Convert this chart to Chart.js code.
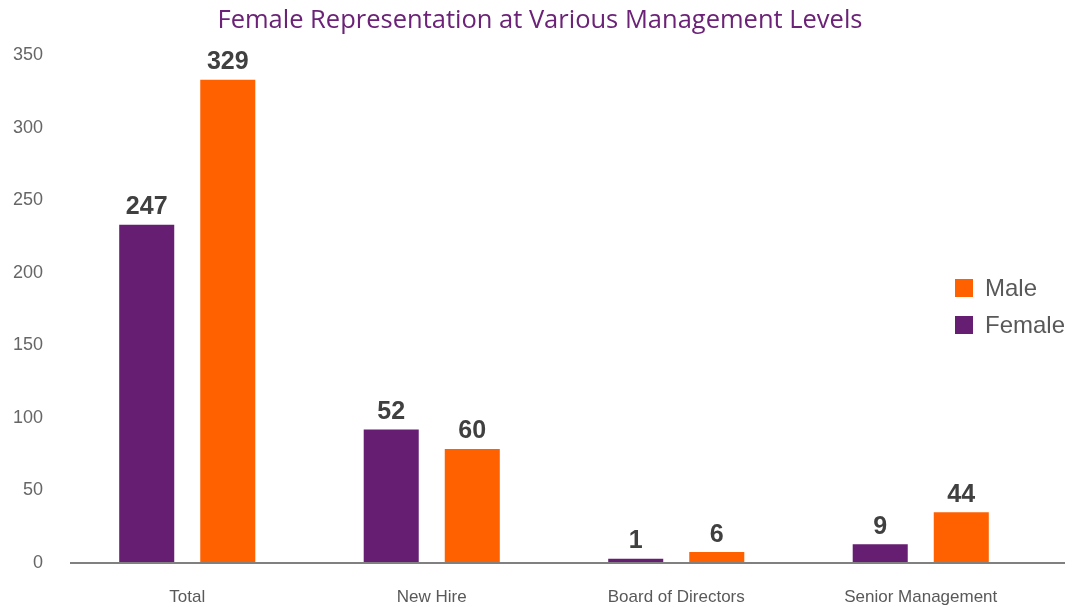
<!DOCTYPE html>
<html>
<head>
<meta charset="utf-8">
<script src="https://cdn.jsdelivr.net/npm/chart.js@4.4.0/dist/chart.umd.min.js"></script>
<style>
  html, body { margin: 0; padding: 0; background: #fff; }
  #wrap { position: relative; width: 1074px; height: 607px; }
  #legend { position: absolute; left: 955px; top: 269px; font: 24px "Liberation Sans", Arial, sans-serif; color: #595959; }
  #legend div { display: flex; align-items: center; height: 37px; }
  #legend span.box { display: inline-block; width: 18px; height: 18px; margin-right: 12px; }
</style>
</head>
<body>
<div id="wrap">
  <canvas id="barChart" width="1074" height="607"></canvas>
  <div id="legend"></div>
</div>
<script>
var chartTitle = "Female Representation at Various Management Levels";
var categories = ["Total", "New Hire", "Board of Directors", "Senior Management"];
// bar heights as drawn in the picture
var femaleValues = [233, 92, 3, 13];
var maleValues = [333, 78.5, 7.5, 35];
// numbers printed above the bars
var femaleLabels = ["247", "52", "1", "9"];
var maleLabels = ["329", "60", "6", "44"];
var yTicks = [0, 50, 100, 150, 200, 250, 300, 350];

var purple = "#661e72";
var orange = "#ff6000";

var barLabels = {
  id: 'barLabels',
  afterDatasetsDraw: function(chart) {
    var ctx = chart.ctx;
    ctx.save();
    ctx.font = "bold 25px 'Liberation Sans', Arial, sans-serif";
    ctx.fillStyle = "#404040";
    ctx.textAlign = "center";
    ctx.textBaseline = "bottom";
    chart.data.datasets.forEach(function(ds, i) {
      chart.getDatasetMeta(i).data.forEach(function(bar, j) {
        ctx.fillText(ds.valueLabels[j], bar.x, bar.y - 5);
      });
    });
    ctx.restore();
  }
};

var baseLine = {
  id: 'baseLine',
  afterDatasetsDraw: function(chart) {
    var ctx = chart.ctx, area = chart.chartArea;
    var y = chart.scales.y.getPixelForValue(0);
    ctx.save();
    ctx.strokeStyle = "#808080";
    ctx.lineWidth = 2;
    ctx.beginPath();
    ctx.moveTo(area.left + 5, y);
    ctx.lineTo(area.right + 22, y);
    ctx.stroke();
    ctx.restore();
  }
};

// title centred on the whole canvas, not on the padded box
var centeredTitle = {
  id: 'centeredTitle',
  afterDraw: function(chart) {
    var ctx = chart.ctx;
    ctx.save();
    ctx.font = "25.5px 'Open Sans', sans-serif";
    ctx.fillStyle = "#6b2277";
    ctx.textAlign = "center";
    ctx.textBaseline = "middle";
    ctx.fillText(chartTitle, chart.width / 2 + 3, 21);
    ctx.restore();
  }
};

var chart = new Chart(document.getElementById("barChart").getContext("2d"), {
  type: 'bar',
  data: {
    labels: categories,
    datasets: [{
      label: "Female",
      data: femaleValues,
      valueLabels: femaleLabels,
      backgroundColor: purple
    }, {
      label: "Male",
      data: maleValues,
      valueLabels: maleLabels,
      backgroundColor: orange
    }]
  },
  options: {
    responsive: false,
    animation: false,
    datasets: {
      bar: { categoryPercentage: 0.663, barPercentage: 0.679 }
    },
    layout: { padding: { top: 55, left: 11, right: 31, bottom: 1 } },
    plugins: {
      legend: { display: false },
      tooltip: { enabled: false }
    },
    scales: {
      x: {
        grid: { display: false, drawTicks: false },
        border: { display: false },
        afterFit: function(axis) { axis.height = 43; },
        ticks: {
          color: "#595959",
          font: { family: "'Liberation Sans', Arial, sans-serif", size: 17 },
          padding: 24
        }
      },
      y: {
        min: 0,
        max: 350,
        grid: { display: false, drawTicks: false },
        border: { display: false },
        afterFit: function(axis) { axis.width = 54; },
        afterBuildTicks: function(axis) {
          axis.ticks = yTicks.map(function(v) { return { value: v }; });
        },
        ticks: {
          color: "#666666",
          font: { family: "'Liberation Sans', Arial, sans-serif", size: 18 },
          padding: 22
        }
      }
    }
  },
  plugins: [barLabels, baseLine, centeredTitle]
});

// legend, male first as in the picture
var legend = document.getElementById("legend");
chart.data.datasets.slice().reverse().forEach(function(ds) {
  var row = document.createElement("div");
  row.innerHTML = '<span class="box" style="background:' + ds.backgroundColor + '"></span>' + ds.label;
  legend.appendChild(row);
});
</script>
</body>
</html>
